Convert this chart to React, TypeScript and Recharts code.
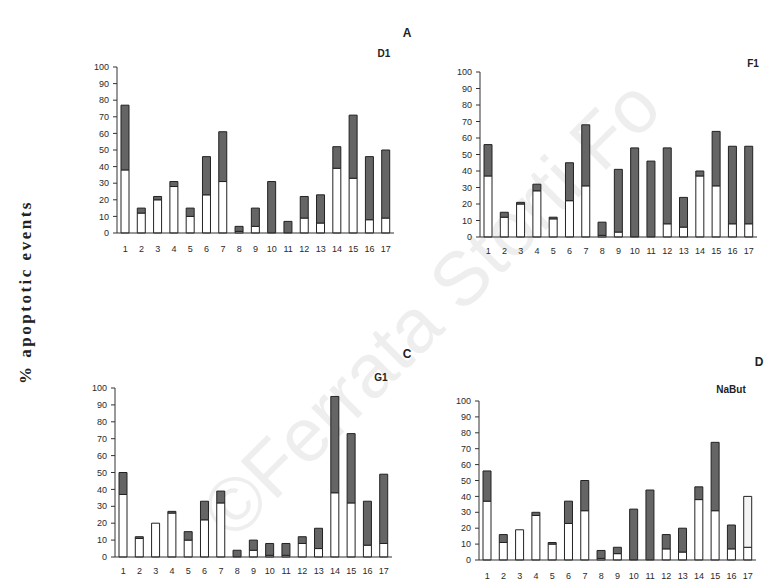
import React from 'react';
import { Bar, BarChart, Cell, XAxis, YAxis } from 'recharts';

const categories = ['1', '2', '3', '4', '5', '6', '7', '8', '9', '10', '11', '12', '13', '14', '15', '16', '17'];
const yTicks = [0, 10, 20, 30, 40, 50, 60, 70, 80, 90, 100];

// lower (white) and upper (dark) segments of each stacked bar, in %
const d1Early = [38, 12, 20, 28, 10, 23, 31, 1, 4, 0, 0, 9, 6, 39, 33, 8, 9];
const d1Late = [39, 3, 2, 3, 5, 23, 30, 3, 11, 31, 7, 13, 17, 13, 38, 38, 41];

const f1Early = [37, 12, 20, 28, 11, 22, 31, 1, 3, 0, 0, 8, 6, 37, 31, 8, 8];
const f1Late = [19, 3, 1, 4, 1, 23, 37, 8, 38, 54, 46, 46, 18, 3, 33, 47, 47];

const g1Early = [37, 11, 20, 26, 10, 22, 32, 0, 4, 1, 1, 8, 5, 38, 32, 7, 8];
const g1Late = [13, 1, 0, 1, 5, 11, 7, 4, 6, 7, 7, 4, 12, 57, 41, 26, 41];

const naButEarly = [37, 11, 19, 28, 10, 23, 31, 1, 4, 0, 0, 7, 5, 38, 31, 7, 8];
const naButLate = [19, 5, 0, 2, 1, 14, 19, 5, 4, 32, 44, 9, 15, 8, 43, 15, 32];

const toRows = (early: number[], late: number[]) =>
  categories.map((c, i) => ({ cat: c, early: early[i], late: late[i] }));

const tickStyle = { fontSize: 9, fill: '#2a2a2a', fontFamily: 'Liberation Sans, Arial, sans-serif' };
const labelFont = 'Liberation Sans, Arial, sans-serif';

interface PanelProps {
  early: number[];
  late: number[];
  plotLeft: number;
  plotRight: number;
  plotTop: number;
  plotBottom: number;
  labelGap: number;
  lightTop?: number[];
}

function Panel({ early, late, plotLeft, plotRight, plotTop, plotBottom, labelGap, lightTop = [] }: PanelProps) {
  const left = plotLeft - 40;
  const top = plotTop - 10;
  const width = plotRight - left + 4;
  const height = plotBottom - top + 25;
  const rows = toRows(early, late);
  return (
    <div style={{ position: 'absolute', left, top, width, height }}>
      <BarChart
        width={width}
        height={height}
        data={rows}
        margin={{ top: 10, right: 4, left: 0, bottom: 0 }}
        barSize={8}
      >
        <XAxis
          dataKey="cat"
          height={25}
          stroke="#333"
          tickLine={false}
          tickSize={4}
          tickMargin={labelGap - 8}
          interval={0}
          tick={tickStyle}
        />
        <YAxis
          width={40}
          domain={[0, 100]}
          ticks={yTicks}
          interval={0}
          stroke="#333"
          tickSize={4}
          tickMargin={4}
          tick={tickStyle}
        />
        <Bar dataKey="early" stackId="s" fill="#ffffff" stroke="#222" strokeWidth={1} isAnimationActive={false} />
        <Bar dataKey="late" stackId="s" fill="#656565" stroke="#222" strokeWidth={1} isAnimationActive={false}>
          {rows.map((r, i) => (
            <Cell key={r.cat} fill={lightTop.includes(i) ? '#f4f4f4' : '#656565'} />
          ))}
        </Bar>
      </BarChart>
    </div>
  );
}

const tag = (text: string, x: number, y: number, size = 11): React.ReactElement => (
  <div
    key={text}
    style={{
      position: 'absolute',
      left: x,
      top: y,
      transform: 'translate(-50%, -50%)',
      fontFamily: labelFont,
      fontWeight: 'bold',
      fontSize: size,
      color: '#222',
      whiteSpace: 'nowrap',
    }}
  >
    {text}
  </div>
);

export default function App() {
  return (
    <div style={{ position: 'absolute', left: 0, top: 0, width: 765, height: 583, background: '#fff', overflow: 'hidden' }}>
      <div
        style={{
          position: 'absolute',
          left: 215,
          top: 480,
          transform: 'rotate(-45deg)',
          transformOrigin: 'left center',
          fontFamily: 'Liberation Sans, Arial, sans-serif',
          fontSize: 76,
          color: '#eeeeee',
          whiteSpace: 'nowrap',
        }}
      >
        ©Ferrata Storti Fo
      </div>

      <div
        style={{
          position: 'absolute',
          left: 26,
          top: 292,
          transform: 'translate(-50%, -50%) rotate(-90deg)',
          fontFamily: 'Liberation Serif, Times New Roman, serif',
          fontWeight: 'bold',
          fontSize: 17,
          letterSpacing: 2.5,
          color: '#222',
          whiteSpace: 'nowrap',
        }}
      >
        % apoptotic events
      </div>

      <Panel early={d1Early} late={d1Late} plotLeft={117} plotRight={394} plotTop={67} plotBottom={233} labelGap={17} />
      <Panel early={f1Early} late={f1Late} plotLeft={480} plotRight={757} plotTop={72} plotBottom={237} labelGap={15} />
      <Panel early={g1Early} late={g1Late} plotLeft={115} plotRight={392} plotTop={388} plotBottom={557} labelGap={15} />
      <Panel early={naButEarly} late={naButLate} plotLeft={479} plotRight={756} plotTop={401} plotBottom={560} labelGap={17} lightTop={[16]} />

      {tag('A', 407, 33, 12)}
      {tag('D1', 384, 53, 10)}
      {tag('F1', 753, 63, 10)}
      {tag('C', 407, 354, 12)}
      {tag('G1', 381, 377, 10)}
      {tag('D', 759, 362, 12)}
      {tag('NaBut', 731, 389, 10)}
    </div>
  );
}
